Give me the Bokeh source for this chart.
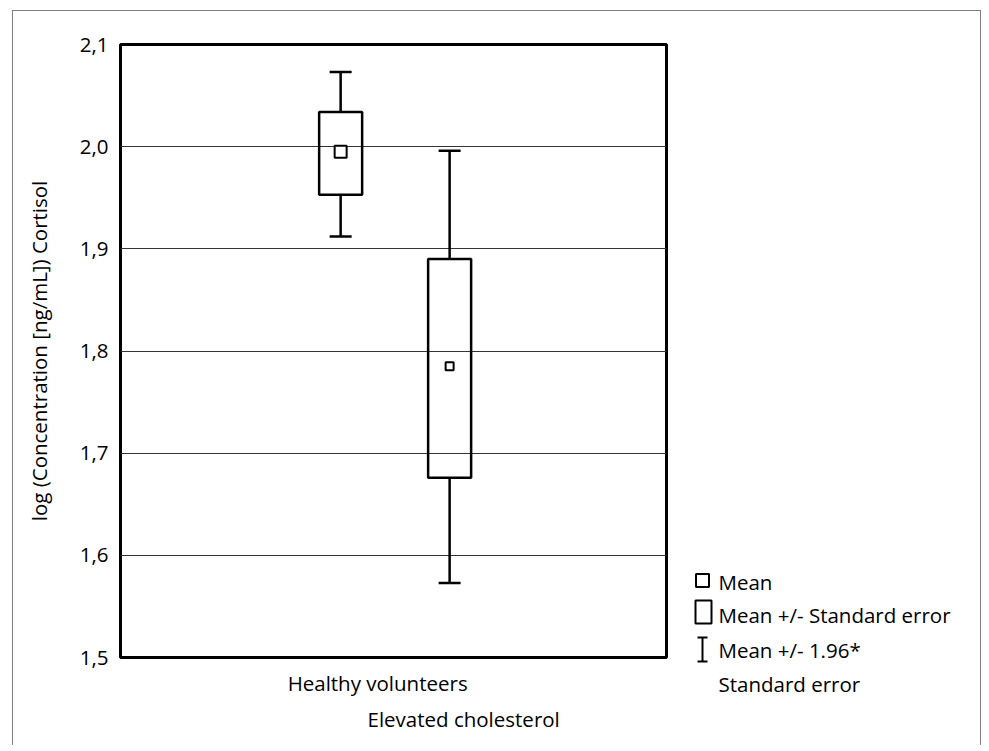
from bokeh.plotting import figure
from bokeh.layouts import row
from bokeh.models import (Range1d, LinearAxis, FixedTicker, CustomJSTickFormatter,
                          ColumnDataSource)
from bokeh.core.properties import value
from bokeh.embed import file_html
from bokeh.resources import INLINE

# ---------------- data ----------------
categories = ["Healthy volunteers", "Elevated cholesterol"]
cat_pos = [1, 2]
means = [1.995, 1.785]
se_low = [1.953, 1.676]
se_high = [2.034, 1.890]
ci_low = [1.912, 1.573]
ci_high = [2.073, 1.996]
y_ticks = [1.5, 1.6, 1.7, 1.8, 1.9, 2.0, 2.1]
y_title = "log (Concentration [ng/mL]) Cortisol"
legend_labels = ["Mean", "Mean +/- Standard error", "Mean +/- 1.96*", "Standard error"]

# ---------------- style ----------------
FONT = "Open Sans"
FS = "20.5px"
H = 745
mean_marker_px = [12, 8]
box_px = 43
cap_px = 22
label_shift_px = [37, 14]
X_RANGE = (-1.02, 3.99)
PX_PER_UNIT = 546 / (X_RANGE[1] - X_RANGE[0])

p = figure(width=680, height=H, output_backend="svg", toolbar_location=None,
           x_range=Range1d(*X_RANGE), y_range=Range1d(y_ticks[0], y_ticks[-1]),
           x_axis_location=None, y_axis_location="left",
           min_border_left=120, min_border_right=14, min_border_top=44,
           min_border_bottom=H - 657)
p.background_fill_color = None
p.border_fill_color = None
p.outline_line_color = "black"
p.outline_line_width = 3
p.xgrid.visible = False
p.ygrid.ticker = FixedTicker(ticks=y_ticks)
p.ygrid.grid_line_color = "#333333"
p.ygrid.grid_line_width = 1

ya = p.yaxis[0]
ya.ticker = FixedTicker(ticks=y_ticks)
ya.formatter = CustomJSTickFormatter(code="return tick.toFixed(1).replace('.', ',');")
ya.axis_line_color = None
ya.major_tick_line_color = None
ya.minor_tick_line_color = None
ya.major_tick_out = 0
ya.major_tick_in = 0
ya.major_label_standoff = 12
ya.major_label_text_font = FONT
ya.major_label_text_font_size = FS
ya.major_label_text_color = "black"
ya.axis_label = y_title
ya.axis_label_text_font = FONT
ya.axis_label_text_font_size = FS
ya.axis_label_text_font_style = "normal"
ya.axis_label_text_color = "black"
ya.axis_label_standoff = 24

# category label axes (two rows, staggered)
standoffs = [11, 5]
for i, name in enumerate(categories):
    tick = cat_pos[i] + label_shift_px[i] / PX_PER_UNIT
    ax = LinearAxis(ticker=FixedTicker(ticks=[tick]),
                    formatter=CustomJSTickFormatter(args=dict(name=name), code="return name;"))
    ax.axis_line_color = None
    ax.major_tick_line_color = None
    ax.minor_tick_line_color = None
    ax.major_tick_out = 0
    ax.major_tick_in = 0
    ax.major_label_standoff = standoffs[i]
    ax.major_label_text_font = FONT
    ax.major_label_text_font_size = FS
    ax.major_label_text_color = "black"
    p.add_layout(ax, "below")

src = ColumnDataSource(dict(
    x=cat_pos, mean=means, se_low=se_low, se_high=se_high, ci_low=ci_low, ci_high=ci_high,
    se_mid=[(a + b) / 2 for a, b in zip(se_low, se_high)],
    se_h=[b - a for a, b in zip(se_low, se_high)],
    msize=mean_marker_px,
))

# whisker stems
p.segment(x0="x", y0="se_high", x1="x", y1="ci_high", source=src, line_color="black", line_width=2.5)
p.segment(x0="x", y0="se_low", x1="x", y1="ci_low", source=src, line_color="black", line_width=2.5)
# caps
p.scatter(x="x", y="ci_high", source=src, marker="dash", size=cap_px, line_color="black", line_width=2.5)
p.scatter(x="x", y="ci_low", source=src, marker="dash", size=cap_px, line_color="black", line_width=2.5)
# SE boxes
p.rect(x="x", y="se_mid", width=box_px, height="se_h", width_units="screen", source=src,
       fill_color=None, line_color="black", line_width=2.5)
# means
p.scatter(x="x", y="mean", source=src, marker="square", size="msize", fill_color="white",
          line_color="black", line_width=2)

# ---------------- legend panel (pixel-like coordinates, y downward) ----------------
LW = 989 - 680
leg = figure(width=LW, height=H, output_backend="svg", toolbar_location=None,
             x_range=Range1d(680, 989), y_range=Range1d(H, 0),
             x_axis_location=None, y_axis_location=None,
             min_border=0, min_border_left=0, min_border_right=0,
             min_border_top=0, min_border_bottom=0)
for fig in (p, leg):
    try:
        fig.frame_align = False
    except Exception:
        pass
leg.outline_line_color = None
leg.background_fill_color = None
leg.border_fill_color = None
leg.xgrid.visible = False
leg.ygrid.visible = False

# Mean symbol
leg.rect(x=[702], y=[580], width=[13], height=[13], fill_color="white",
         line_color="black", line_width=2)
# SE box symbol
leg.rect(x=[703], y=[611.5], width=[16], height=[23], fill_color="white",
         line_color="black", line_width=2)
# 1.96*SE whisker symbol
leg.segment(x0=[702, 697, 697], y0=[637, 637, 661], x1=[702, 707, 707], y1=[661, 637, 661],
            line_color="black", line_width=2)

leg.text(x=[718] * 4, y=[581, 614, 649, 683], text=legend_labels,
         text_font=value(FONT), text_font_size=value(FS), text_color="black",
         text_baseline="alphabetic", text_align="left")

layout = row(p, leg, styles={
    "background-color": "white",
    "background-image": "linear-gradient(#808080,#808080), linear-gradient(#808080,#808080), "
                        "linear-gradient(#808080,#808080)",
    "background-size": "1px 900px, 969px 1px, 1px 900px",
    "background-position": "12px 10px, 12px 10px, 980px 10px",
    "background-repeat": "no-repeat",
})

open("out.html", "w").write(file_html(layout, INLINE))
